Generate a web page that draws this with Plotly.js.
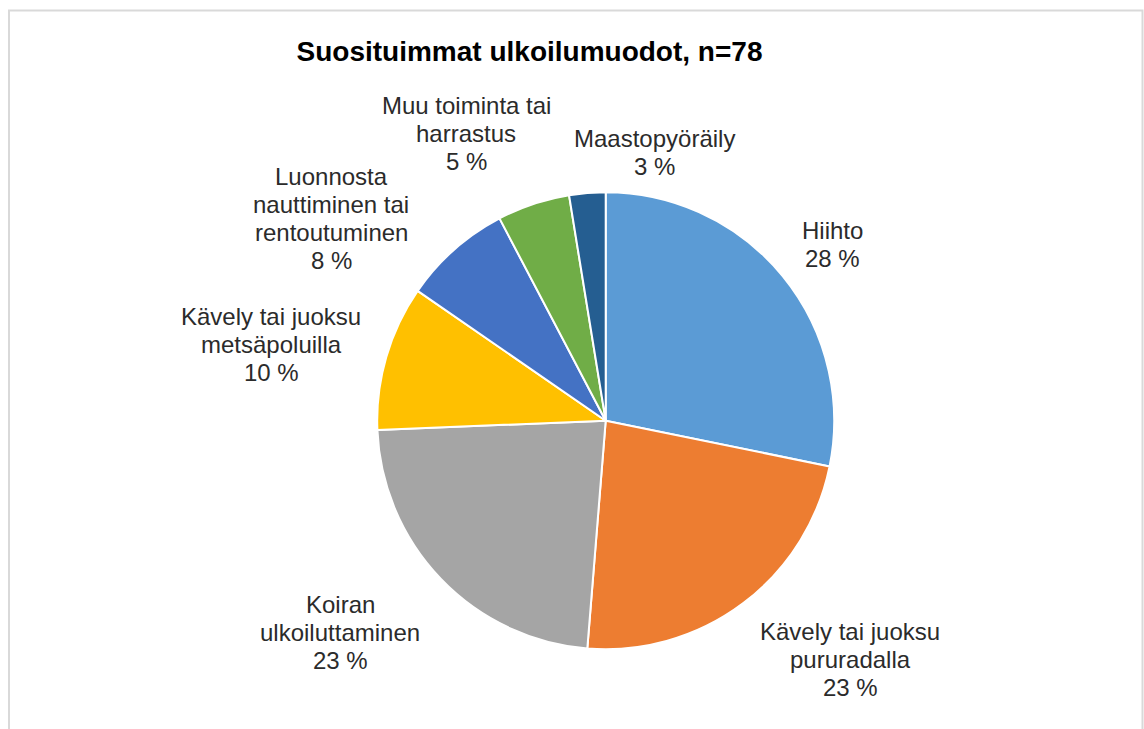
<!DOCTYPE html>
<html>
<head>
<meta charset="utf-8">
<script src="https://cdn.plot.ly/plotly-3.0.1.min.js"></script>
<style>
  html, body { margin: 0; padding: 0; background: #ffffff; }
  #chart { width: 1144px; height: 729px; }
</style>
</head>
<body>
<div id="chart"></div>
<script>
// ---- Data ----
const chartTitle = 'Suosituimmat ulkoilumuodot, n=78';
const categoryLines = [
  ['Hiihto'],
  ['Kävely tai juoksu', 'pururadalla'],
  ['Koiran', 'ulkoiluttaminen'],
  ['Kävely tai juoksu', 'metsäpoluilla'],
  ['Luonnosta', 'nauttiminen tai', 'rentoutuminen'],
  ['Muu toiminta tai', 'harrastus'],
  ['Maastopyöräily']
];
const categories = categoryLines.map(l => l.join(' '));
const counts = [22, 18, 18, 8, 6, 4, 2];

// ---- Styles / layout ----
const colors = ['#5B9BD5', '#ED7D31', '#A5A5A5', '#FFC000', '#4472C4', '#70AD47', '#255E91'];
const W = 1144, H = 729;
// label anchor: [center x px, baseline of first line px]
const labelAnchor = [
  [832, 239],
  [850, 640],
  [340, 613],
  [271, 325],
  [331, 185],
  [466, 114],
  [654, 147]
];
const lineGap = 28;
const labelFont = { family: 'Liberation Sans, Arial, sans-serif', size: 24, color: '#2b2b2b' };

const total = counts.reduce((a, b) => a + b, 0);
const pctText = counts.map(v => Math.round(v / total * 100) + ' %');

const annotations = [];
categoryLines.forEach((lines, i) => {
  const all = lines.concat([pctText[i]]);
  all.forEach((t, k) => {
    const base = labelAnchor[i][1] + k * lineGap;
    annotations.push({
      xref: 'paper', yref: 'paper',
      x: labelAnchor[i][0] / W,
      y: 1 - (base - 8.3) / H,
      xanchor: 'center', yanchor: 'middle',
      text: t, showarrow: false,
      font: labelFont
    });
  });
});

const cx = 605.7, cy = 420.7, r = 228.5;
const trace = {
  type: 'pie',
  labels: categories,
  values: counts,
  sort: false,
  direction: 'clockwise',
  rotation: 0,
  textinfo: 'none',
  hoverinfo: 'none',
  marker: { colors: colors, line: { color: '#ffffff', width: 2 } },
  domain: {
    x: [(cx - r) / W, (cx + r) / W],
    y: [(H - cy - r) / H, (H - cy + r) / H]
  },
  showlegend: false
};

const layout = {
  width: W, height: H,
  margin: { l: 0, r: 0, t: 0, b: 0 },
  paper_bgcolor: '#ffffff',
  showlegend: false,
  title: {
    text: '<b>' + chartTitle + '</b>',
    x: 529.5 / W, xanchor: 'center',
    y: 1 - 51 / H, yanchor: 'middle',
    xref: 'paper', yref: 'container',
    font: { family: 'Liberation Sans, Arial, sans-serif', size: 28, color: '#000000' }
  },
  annotations: annotations,
  shapes: [{
    type: 'rect', xref: 'paper', yref: 'paper',
    x0: 9 / W, x1: 1142.5 / W, y0: -0.05, y1: 1 - 10.5 / H,
    line: { color: '#D9D9D9', width: 2 }, fillcolor: 'rgba(0,0,0,0)', layer: 'below'
  }]
};

Plotly.newPlot('chart', [trace], layout, { staticPlot: true, displayModeBar: false });
</script>
</body>
</html>
